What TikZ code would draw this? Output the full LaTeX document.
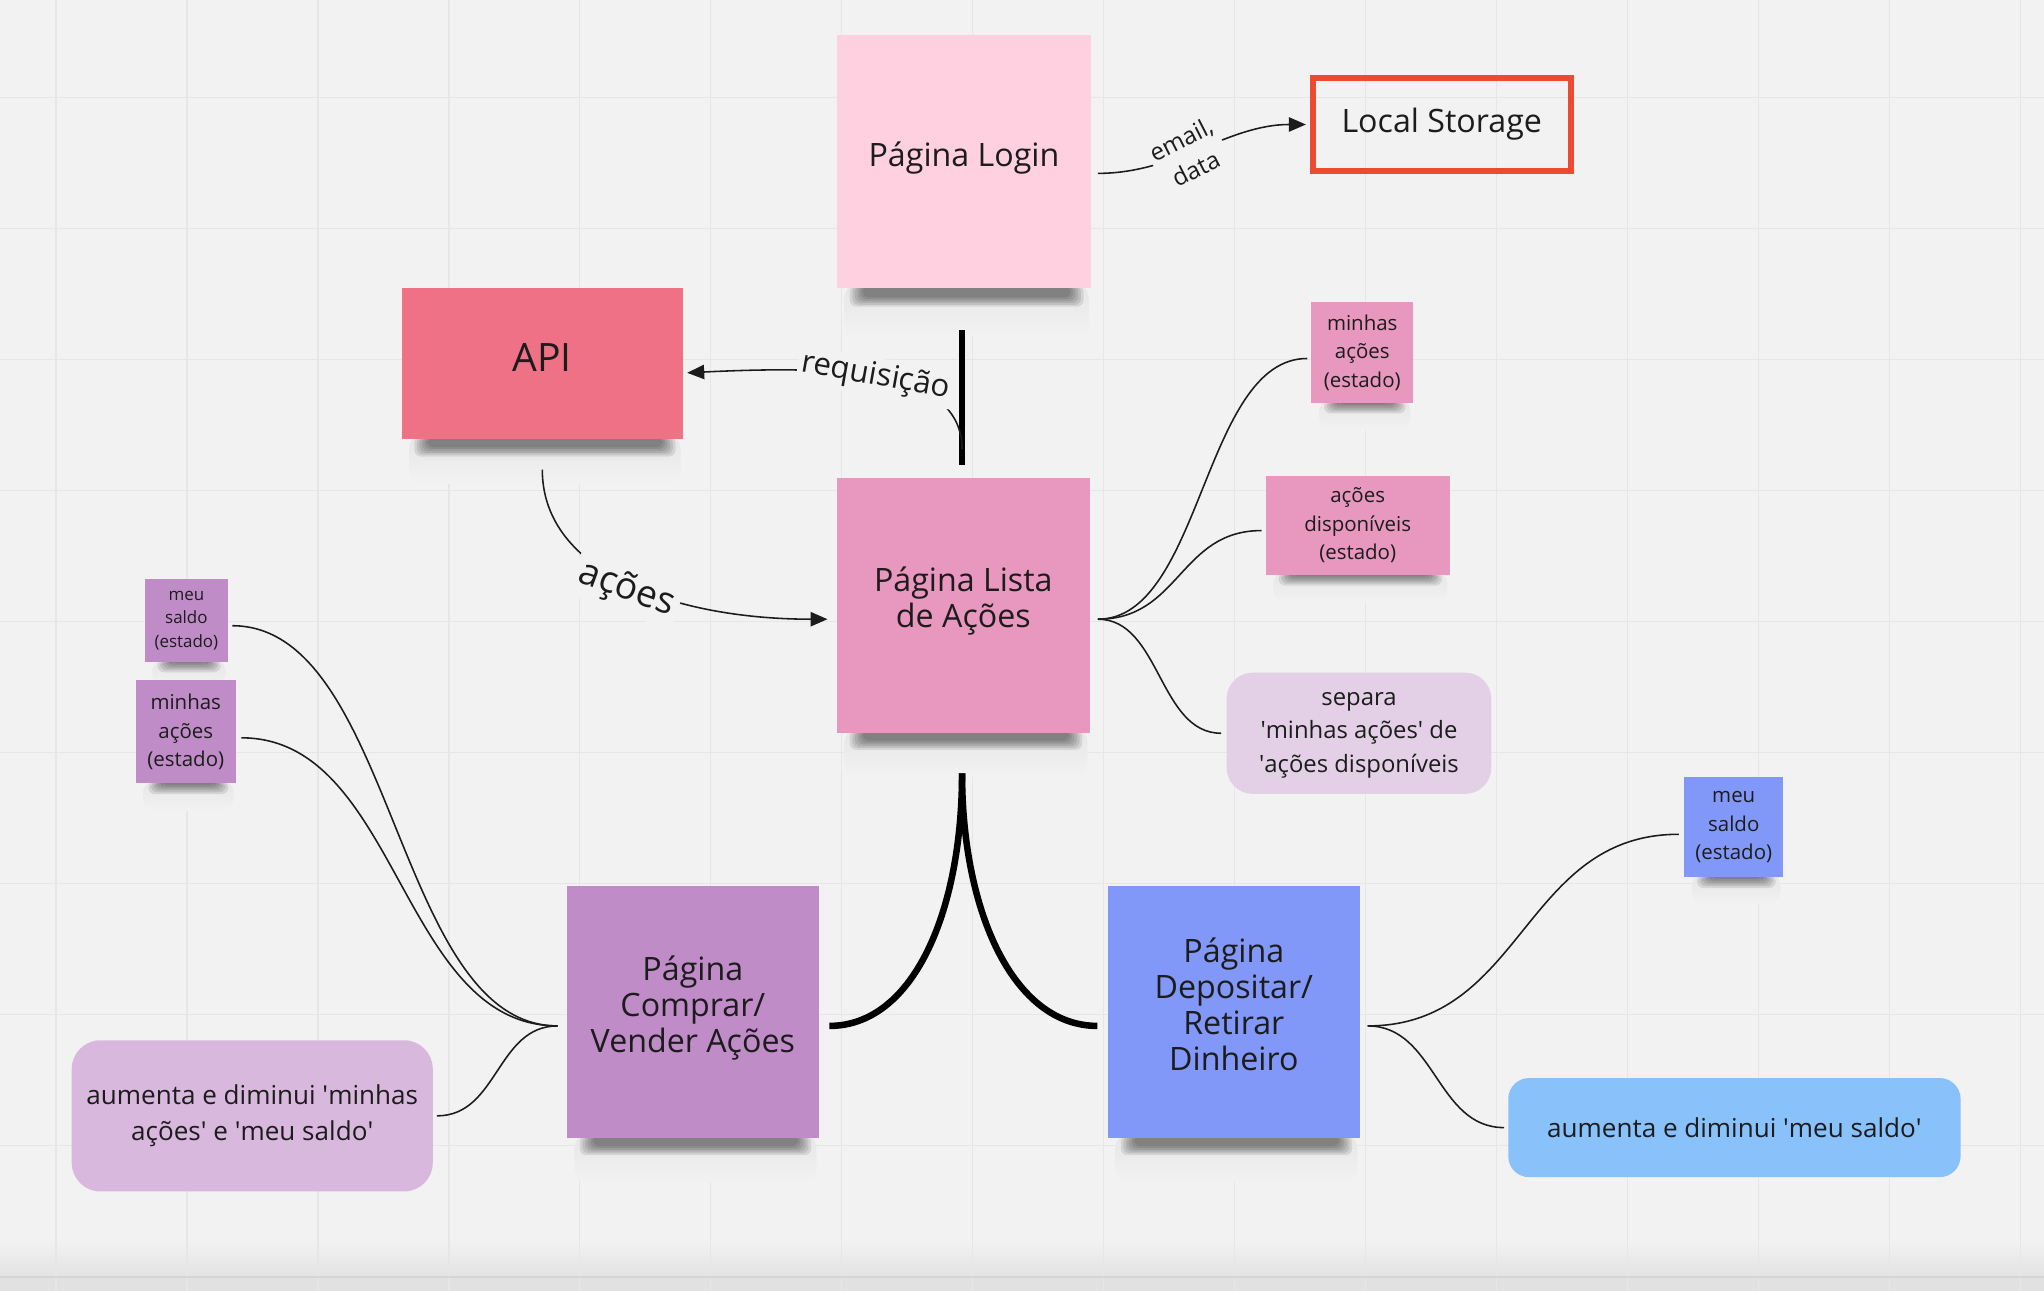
\documentclass[tikz,border=0pt]{standalone}
\usepackage{fontspec}
\setmainfont{Open Sans}
\usetikzlibrary{arrows.meta}
\definecolor{bgc}{HTML}{F2F2F2}
\definecolor{gridc}{HTML}{E6E6E6}
\definecolor{txt}{HTML}{1C1C1C}
\definecolor{loginc}{HTML}{FED0E0}
\definecolor{apic}{HTML}{EE7186}
\definecolor{listac}{HTML}{E897BF}
\definecolor{lilac}{HTML}{E3CFE6}
\definecolor{purp}{HTML}{C08CC8}
\definecolor{purplight}{HTML}{D9B8DD}
\definecolor{bluec}{HTML}{8198F9}
\definecolor{skyc}{HTML}{89C1FA}
\definecolor{redc}{HTML}{EB4B33}
\pgfdeclarelayer{gridlayer}
\pgfdeclarelayer{shadowlayer}
\pgfsetlayers{gridlayer,shadowlayer,main}
\newcommand\myq{\textquotesingle}
\newcommand\stkshadow[2]{%
  \shade[top color=black!5!bgc,bottom color=bgc,rounded corners=10] ([xshift=6,yshift=3]#1.south west) rectangle ([xshift=-2,yshift=-2.6*#2]#1.south east);
  \foreach \k in {0,...,5}
    \fill[black, opacity=0.09, rounded corners=5] ([xshift=10+2*\k,yshift=2]#1.south west) rectangle ([xshift=-6-2*\k,yshift={-(#2-1.4*\k)}]#1.south east);}
\begin{document}
\begin{tikzpicture}[x=1pt,y=-1pt,
  sticky/.style={inner sep=0pt, align=center, text=txt},
  bigtext/.style={text=txt, align=center, inner sep=0pt, font=\fontsize{24.7}{27.7}\selectfont},
  conn/.style={line width=1.2pt, draw=txt},
  thickline/.style={line width=5pt, draw=black},
  arrowend/.style={-{Triangle[length=13pt,width=11pt]}},
  lbl/.style={fill=bgc, inner sep=3pt, text=txt, align=center},
  fbig/.style={font=\fontsize{24.7}{27.7}\selectfont},
  fsmall/.style={font=\fontsize{15.7}{21.7}\selectfont},
  ftiny/.style={font=\fontsize{13}{18}\selectfont},
  fsep/.style={font=\fontsize{18.3}{25.8}\selectfont},
  faum/.style={font=\fontsize{20}{28}\selectfont},
  freq/.style={font=\fontsize{24}{28}\selectfont},
  facoes/.style={font=\fontsize{28.5}{32}\selectfont},
  femail/.style={font=\fontsize{18.5}{25}\selectfont}]
\useasboundingbox (0,0) rectangle (1568,990);
\begin{pgfonlayer}{gridlayer}
  \fill[bgc] (0,0) rectangle (1568,990);
  \shade[top color=bgc,bottom color=black!6!bgc] (0,950) rectangle (1568,979);
  \fill[black!7!bgc] (0,979) rectangle (1568,990);
  \foreach \i in {0,...,15} \draw[gridc,line width=1pt] ({43+100.45*\i},0) -- ({43+100.45*\i},990);
  \foreach \i in {0,...,8} \draw[gridc,line width=1pt] (0,{75+100.45*\i}) -- (1568,{75+100.45*\i});
  \draw[black!12!bgc,line width=1.2pt] (0,979.6) -- (1568,979.6);
\end{pgfonlayer}

% nodes
\node[sticky, fill=loginc, minimum width=195, minimum height=194,
  label={[bigtext, yshift=3]center:Página Login}] (login) at (739.5,124) {};
\node[draw=redc, line width=4.5pt, minimum width=198, minimum height=71, inner sep=0pt, text=txt, fbig] (ls) at (1106,95.5) {Local Storage};
\node[sticky, fill=apic, minimum width=216, minimum height=116,
  label={[bigtext, yshift=5, font=\fontsize{30}{34}\selectfont]center:API}] (api) at (416,279) {};
\node[sticky, fill=listac, minimum width=194, minimum height=195,
  label={[bigtext, yshift=3.5]center:{Página Lista\\de Ações}}] (lista) at (739,464.5) {};
\node[sticky, fill=listac, minimum width=78, minimum height=77, fsmall] (mina) at (1045,270.5) {minhas\\ações\\(estado)};
\node[sticky, fill=listac, minimum width=141, minimum height=76, fsmall] (disp) at (1041.5,403) {ações\\disponíveis\\(estado)};
\node[sticky, fill=lilac, rounded corners=20, minimum width=203, minimum height=93,
  label={[sticky, fsep, yshift=-1.5]center:{separa\\\myq minhas ações\myq{} de\\\myq ações disponíveis}}] (sep) at (1042.5,562.5) {};
\node[sticky, fill=purp, minimum width=193, minimum height=193,
  label={[bigtext, yshift=3.5]center:{Página\\Comprar/\\Vender Ações}}] (comp) at (531.5,776.5) {};
\node[sticky, fill=bluec, minimum width=193, minimum height=193,
  label={[bigtext, yshift=6]center:{Página\\Depositar/\\Retirar\\Dinheiro}}] (dep) at (946.5,776.5) {};
\node[sticky, fill=purp, minimum width=64, minimum height=64, ftiny] (msl) at (143,476) {meu\\saldo\\(estado)};
\node[sticky, fill=purp, minimum width=77, minimum height=79, fsmall] (mal) at (142.5,561.5) {minhas\\ações\\(estado)};
\node[sticky, fill=purplight, rounded corners=22, minimum width=277, minimum height=116, faum] (aul) at (193.5,856) {aumenta e diminui \myq minhas\\ações\myq{} e \myq meu saldo\myq};
\node[sticky, fill=bluec, minimum width=76, minimum height=77, fsmall] (msb) at (1330,634.5) {meu\\saldo\\(estado)};
\node[sticky, fill=skyc, rounded corners=16, minimum width=347, minimum height=76, faum] (aur) at (1330.5,865) {aumenta e diminui \myq meu saldo\myq};

% shadows
\begin{pgfonlayer}{shadowlayer}
  \stkshadow{login}{14}
  \stkshadow{api}{13}
  \stkshadow{lista}{13}
  \stkshadow{comp}{13}
  \stkshadow{dep}{13}
  \stkshadow{mina}{8}
  \stkshadow{disp}{8}
  \stkshadow{msl}{7.5}
  \stkshadow{mal}{8}
  \stkshadow{msb}{8}
\end{pgfonlayer}

% connectors
\draw[conn, arrowend] ([xshift=5,yshift=-9]login.east) .. controls +(60,0) and +(-60,0) .. ([xshift=-3]ls.west)
  node[lbl, pos=0.43, rotate=27, femail, inner sep=2pt] {email,\\data};

\coordinate (bartop) at ([xshift=-1.5,yshift=-32]login.south);
\coordinate (barbot) at ([xshift=-1,yshift=10]lista.north);
\draw[thickline] (bartop) -- (barbot);
\coordinate (reqfrom) at ([yshift=12]barbot);
\draw[conn, arrowend] (reqfrom) .. controls +(0,-60) and +(123,-6) .. ([xshift=3,yshift=-7]api.east)
  node[lbl, pos=0.53, rotate=-10, freq] {requisição};

\draw[conn, arrowend] ([yshift=-23]api.south) .. controls +(0,80) and +(-115,0) .. ([xshift=-7,yshift=-10.5]lista.west)
  node[lbl, pos=0.5, rotate=-20, facoes, yshift=-5, inner sep=4pt] {ações};

\coordinate (lf) at ([xshift=6,yshift=-10.5]lista.east);
\draw[conn] (lf) .. controls +(80,0) and +(-80,0) .. ([xshift=-3,yshift=-4.5]mina.west);
\draw[conn] (lf) .. controls +(63,0) and +(-63,0) .. ([xshift=-3,yshift=-4]disp.west);
\draw[conn] (lf) .. controls +(48,0) and +(-48,0) .. ([xshift=-4]sep.west);

\coordinate (ltop) at ([xshift=-1,yshift=-31]lista.south);
\draw[thickline] (ltop) .. controls +(0,107) and +(64,0) .. ([xshift=8,yshift=-10.5]comp.east);
\draw[thickline] (ltop) .. controls +(0,107) and +(-64,0) .. ([xshift=-8,yshift=-10.5]dep.west);

\coordinate (cf) at ([xshift=-7,yshift=-10.5]comp.west);
\draw[conn] (cf) .. controls +(-125,0) and +(125,0) .. ([xshift=3,yshift=-4]msl.east);
\draw[conn] (cf) .. controls +(-121,0) and +(121,0) .. ([xshift=4,yshift=-4.5]mal.east);
\draw[conn] (cf) .. controls +(-47,0) and +(47,0) .. ([xshift=3]aul.east);

\coordinate (df) at ([xshift=6,yshift=-10.5]dep.east);
\draw[conn] (df) .. controls +(120,0) and +(-120,0) .. ([xshift=-4,yshift=-5.5]msb.west);
\draw[conn] (df) .. controls +(52,0) and +(-52,0) .. ([xshift=-3]aur.west);
\end{tikzpicture}
\end{document}
